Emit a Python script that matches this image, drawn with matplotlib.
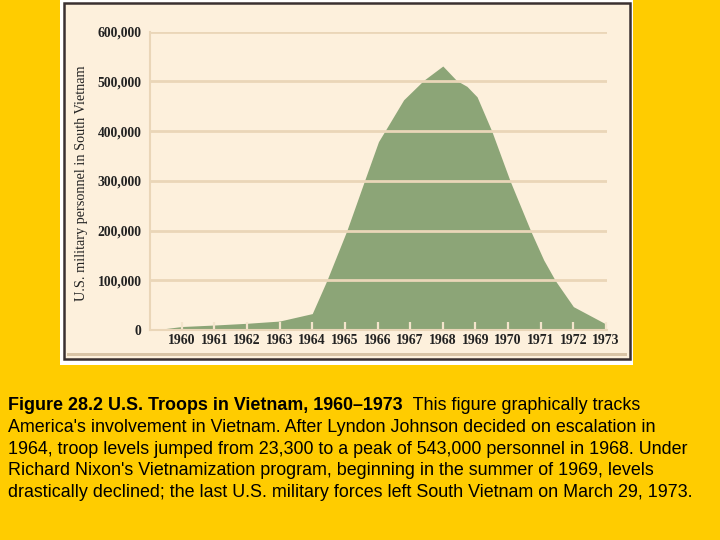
import matplotlib.pyplot as plt
from matplotlib.patches import Rectangle

# troop levels
years = [1959.27, 1960, 1961, 1962, 1963, 1964, 1964.45, 1965.06, 1965.6, 1966.03,
         1966.28, 1966.8, 1967.41, 1968.0, 1968.42, 1968.74, 1969.05, 1969.5, 1970.06,
         1970.7, 1971.09, 1971.45, 1972.0, 1973.0]
troops = [1000, 7000, 10000, 13500, 18000, 33000, 100000, 200000, 300000, 379000,
          406000, 463000, 502000, 531000, 502000, 490000, 469000, 400000, 300000,
          198000, 141000, 99000, 47000, 12000]

tick_years = list(range(1960, 1974))
y_ticks = [0, 100000, 200000, 300000, 400000, 500000, 600000]
y_labels = ['0', '100,000', '200,000', '300,000', '400,000', '500,000', '600,000']
ylabel = 'U.S. military personnel in South Vietnam'

caption_bold = 'Figure 28.2 U.S. Troops in Vietnam, 1960\u20131973'
caption_first = '  This figure graphically tracks'
caption_rest = [
    "America's involvement in Vietnam. After Lyndon Johnson decided on escalation in",
    "1964, troop levels jumped from 23,300 to a peak of 543,000 personnel in 1968. Under",
    "Richard Nixon's Vietnamization program, beginning in the summer of 1969, levels",
    "drastically declined; the last U.S. military forces left South Vietnam on March 29, 1973.",
]

W, H = 720, 540
fig = plt.figure(figsize=(7.2, 5.4), dpi=100)
fig.patch.set_facecolor('#FFCC00')

def px(x0, y0, x1, y1):
    # pixel box (top-left origin) -> figure fraction rectangle
    return (x0 / W, 1 - y1 / H), (x1 - x0) / W, (y1 - y0) / H

xy, w, h = px(60, 0, 633, 365)
fig.add_artist(Rectangle(xy, w, h, transform=fig.transFigure, facecolor='white',
                         edgecolor='none', zorder=-3))
xy, w, h = px(64, 3, 630, 359)
fig.add_artist(Rectangle(xy, w, h, transform=fig.transFigure, facecolor='#FDF0DC',
                         edgecolor='#3a3030', linewidth=1.8, zorder=-2))
xy, w, h = px(67, 353, 627, 356)
fig.add_artist(Rectangle(xy, w, h, transform=fig.transFigure, facecolor='#D9C4A6',
                         edgecolor='none', zorder=-1))

ax = fig.add_axes([150 / W, 1 - 330 / H, 457 / W, 298.3 / H])
ax.set_facecolor('none')
ax.fill_between(years, troops, 0, color='#8CA577', linewidth=0, zorder=1)

ax.set_xlim(1959.03, 1973.03)
ax.set_ylim(0, 600000)
ax.set_axisbelow(False)

ax.set_yticks(y_ticks)
ax.set_yticklabels(y_labels, family='Liberation Serif', fontweight='bold', fontsize=9.8, color='#222222')
ax.set_xticks(tick_years)
ax.set_xticklabels([str(y) for y in tick_years], family='Liberation Serif', fontweight='bold',
                   fontsize=10, color='#222222')
ax.tick_params(axis='y', length=0, pad=6)
ax.tick_params(axis='x', direction='in', length=6, width=1.6, color='#F3E4CB', pad=3)

ax.yaxis.grid(True, color='#EAD6B8', linewidth=2)
for s in ['top', 'right']:
    ax.spines[s].set_visible(False)
ax.spines['left'].set_color('#EAD6B8')
ax.spines['left'].set_linewidth(1.5)
ax.spines['bottom'].set_color('#EAD6B8')
ax.spines['bottom'].set_linewidth(1.5)

fig.text(82 / W, 1 - 183 / H, ylabel, rotation=90, ha='center', va='center',
         family='Liberation Serif', fontsize=10.3, color='#222222')

# caption
fs = 12.9
base0 = 410
step = 21.75
t = fig.text(8 / W, 1 - base0 / H, caption_bold, family='Liberation Sans', fontweight='bold',
             fontsize=fs, va='baseline', ha='left', color='black')
fig.canvas.draw()
bb = t.get_window_extent()
fig.text(bb.x1 / W, 1 - base0 / H, caption_first, family='Liberation Sans', fontsize=fs,
         va='baseline', ha='left', color='black')
for i, line in enumerate(caption_rest):
    fig.text(8 / W, 1 - (base0 + step * (i + 1)) / H, line, family='Liberation Sans',
             fontsize=fs, va='baseline', ha='left', color='black')

fig.savefig('out.png', dpi=100, facecolor=fig.get_facecolor())
